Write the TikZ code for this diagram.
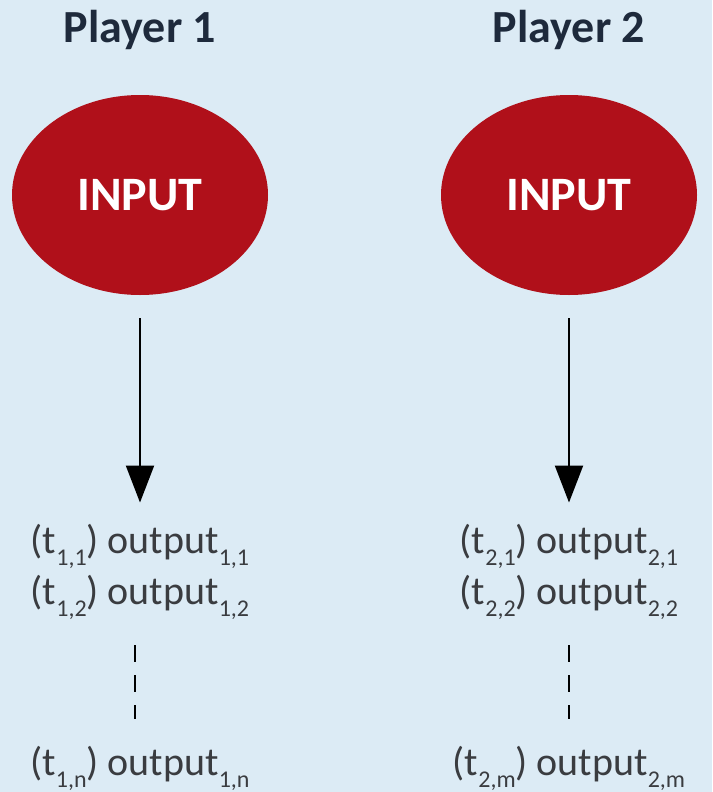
\documentclass[tikz,border=0pt]{standalone}
\usepackage{fontspec}
\setmainfont{Carlito}
\usetikzlibrary{arrows.meta,shapes.geometric}

\definecolor{panelbg}{RGB}{220,235,245}
\definecolor{inputred}{RGB}{176,16,26}
\definecolor{titleink}{RGB}{30,42,60}
\definecolor{bodyink}{RGB}{58,60,64}

% subscript set in the text font, dropped below the baseline
\newcommand{\lowidx}[1]{\raisebox{-0.3em}{\fontsize{24}{24}\selectfont #1}}
\newcommand{\outline}[2]{(t\lowidx{#1}) output\lowidx{#2}}

\tikzset{
  playertitle/.style={font=\fontsize{46}{46}\selectfont\bfseries, text=titleink, anchor=base, inner sep=0pt},
  inputblob/.style={ellipse, fill=inputred, minimum width=256pt, minimum height=200pt,
    inner sep=0pt, text=white, font=\fontsize{48}{48}\selectfont\bfseries},
  outtext/.style={font=\fontsize{40}{40}\selectfont, text=bodyink, anchor=base, inner sep=0pt},
  flowarrow/.style={draw=black, line width=2pt, -{Triangle[width=28pt,length=37pt]}},
  gapline/.style={draw=black, line width=1.6pt, dash pattern=on 17pt off 13pt,
    shorten <=26pt, shorten >=27pt}
}

\begin{document}
\begin{tikzpicture}[x=1pt,y=-1pt]
  \fill[panelbg] (0,0) rectangle (712,792);
  \useasboundingbox (0,0) rectangle (712,792);

  % player 1 column
  \node[playertitle] (p1) at (140,43) {Player 1};
  \node[inputblob] (in1) at (140,195) {\raisebox{-3pt}{INPUT}};
  \node[outtext] (o11) at (140,553) {\outline{1,1}{1,1}};
  \node[outtext] (o12) at (140,604) {\outline{1,2}{1,2}};
  \node[outtext] (o1n) at (140,775) {\outline{1,n}{1,n}};

  % player 2 column
  \node[playertitle] (p2) at (569,43) {Player 2};
  \node[inputblob] (in2) at (569,195) {\raisebox{-3pt}{INPUT}};
  \node[outtext] (o21) at (569,553) {\outline{2,1}{2,1}};
  \node[outtext] (o22) at (569,604) {\outline{2,2}{2,2}};
  \node[outtext] (o2m) at (569,775) {\outline{2,m}{2,m}};

  % arrows from each input to its outputs
  \draw[flowarrow, shorten <=23pt, shorten >=21pt] (in1.south) -- (o11.north);
  \draw[flowarrow, shorten <=23pt, shorten >=21pt] (in2.south) -- (o21.north);

  % elided outputs
  \draw[gapline] ([xshift=-5pt]o12.south) -- ([xshift=-5pt]o1n.north);
  \draw[gapline] (o22.south) -- (o2m.north);
\end{tikzpicture}
\end{document}
